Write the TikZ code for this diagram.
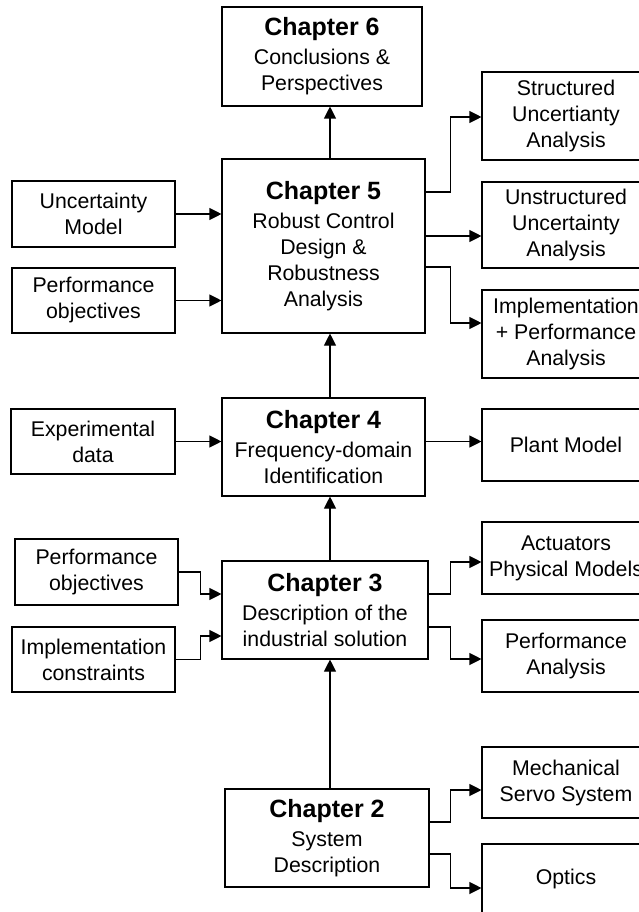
\documentclass[tikz,border=0pt]{standalone}
\usepackage{fontspec}
\setmainfont{Liberation Sans}
\usetikzlibrary{arrows.meta,calc}
\newcommand\chtitle[1]{{\fontsize{25}{26}\selectfont\bfseries #1}\\[3pt]}
\begin{document}
\begin{tikzpicture}[x=1pt,y=-1pt,
 box/.style={draw,line width=1.1pt,inner sep=0pt,align=center,font=\fontsize{21.3}{26}\selectfont},
 arr/.style={line width=1.1pt,-{Triangle[length=12pt,width=12pt]}}]
\useasboundingbox (0,0) rectangle (639,912);
% chapters
\node[box,minimum width=200pt,minimum height=99pt] (ch6) at (322,56.5) {\chtitle{Chapter 6}Conclusions \&\\Perspectives};
\node[box,minimum width=203pt,minimum height=174pt] (ch5) at (323.5,246) {\chtitle{Chapter 5}Robust Control\\Design \&\\Robustness\\Analysis};
\node[box,minimum width=203pt,minimum height=98pt] (ch4) at (323.5,447) {\chtitle{Chapter 4}Frequency-domain\\Identification};
\node[box,minimum width=206pt,minimum height=98pt] (ch3) at (325,610) {\chtitle{Chapter 3}Description of the\\industrial solution};
\node[box,minimum width=204pt,minimum height=98pt] (ch2) at (327,838) {\chtitle{Chapter 2}System\\Description};
% left inputs
\node[box,minimum width=163pt,minimum height=66pt] (unc) at (93.5,214) {Uncertainty\\Model};
\node[box,minimum width=163pt,minimum height=65pt] (perfA) at (93.5,300.5) {Performance\\objectives};
\node[box,minimum width=164pt,minimum height=65pt] (exp) at (93,441.5) {Experimental\\data};
\node[box,minimum width=163pt,minimum height=66pt] (perfB) at (96.5,572) {Performance\\objectives};
\node[box,minimum width=163pt,minimum height=65pt] (impl) at (93.5,659.5) {Implementation\\constraints};
% right outputs
\node[box,minimum width=168pt,minimum height=88pt] (str) at (566,116) {Structured\\Uncertianty\\Analysis};
\node[box,minimum width=168pt,minimum height=86pt] (unstr) at (566,225) {Unstructured\\Uncertainty\\Analysis};
\node[box,minimum width=168pt,minimum height=88pt] (imp) at (566,334) {Implementation\\+ Performance\\Analysis};
\node[box,minimum width=168pt,minimum height=72pt] (plant) at (566,445) {Plant Model};
\node[box,minimum width=168pt,minimum height=72pt] (act) at (566,558) {Actuators\\Physical Models};
\node[box,minimum width=168pt,minimum height=72pt] (pan) at (566,656) {Performance\\Analysis};
\node[box,minimum width=168pt,minimum height=71pt] (mech) at (566,782.5) {Mechanical\\Servo System};
\node[box,minimum width=168pt,minimum height=70pt] (opt) at (566,879) {Optics};
% vertical arrows
\coordinate (ax) at (330,0);
\draw[arr] (ch5.north -| ax) -- (ch6.south -| ax);
\draw[arr] (ch4.north -| ax) -- (ch5.south -| ax);
\draw[arr] (ch3.north -| ax) -- (ch4.south -| ax);
\draw[arr] (ch2.north -| ax) -- (ch3.south -| ax);
% left connectors
\draw[arr] (unc.east) -- (unc.east -| ch5.west);
\draw[arr] (perfA.east) -- (perfA.east -| ch5.west);
\draw[arr] (exp.east) -- (exp.east -| ch4.west);
\draw[arr] (perfB.east) -- ++(22,0) |- ($(ch3.west)+(0,-16)$);
\draw[arr] (impl.east) -- ++(25,0) |- ($(ch3.west)+(0,26)$);
% right connectors
\draw[arr] (ch4.east |- exp.east) -- (plant.west |- exp.east);
\draw[arr] ($(ch5.east)+(0,-54)$) -- ++(25,0) |- ($(str.west)+(0,1)$);
\coordinate (u) at ($(ch5.east)+(0,-10)$);
\draw[arr] (u) -- (u -| unstr.west);
\draw[arr] ($(ch5.east)+(0,21)$) -- ++(25,0) |- ($(imp.west)+(0,-11)$);
\draw[arr] ($(ch3.east)+(0,-16)$) -- ++(22,0) |- ($(act.west)+(0,4)$);
\draw[arr] ($(ch3.east)+(0,17)$) -- ++(22,0) |- ($(pan.west)+(0,3)$);
\draw[arr] ($(ch2.east)+(0,-16)$) -- ++(21,0) |- ($(mech.west)+(0,7.5)$);
\draw[arr] ($(ch2.east)+(0,16)$) -- ++(21,0) |- ($(opt.west)+(0,9)$);
\end{tikzpicture}
\end{document}
